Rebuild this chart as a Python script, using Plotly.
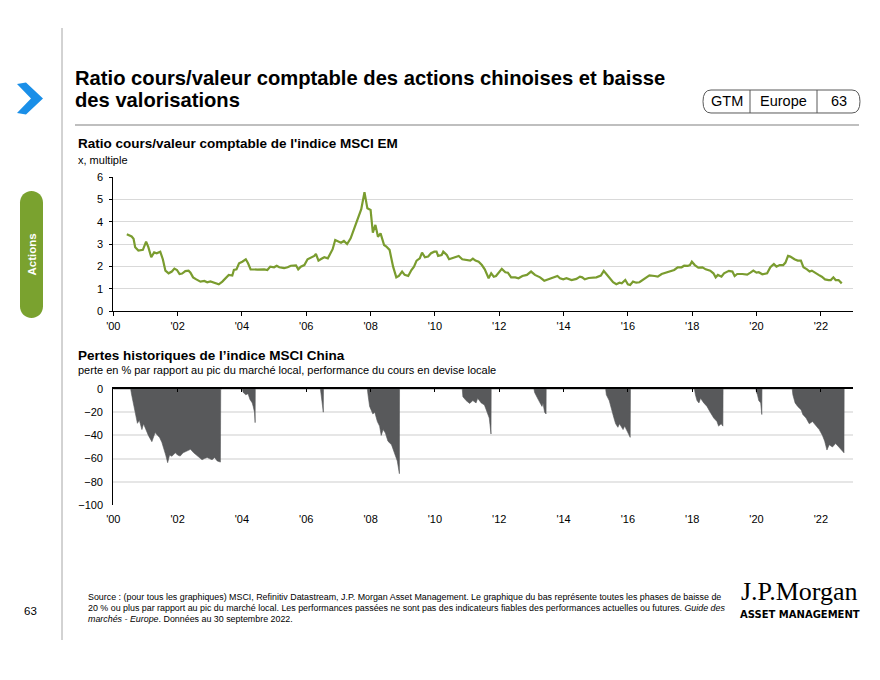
import plotly.graph_objects as go

W, H = 880, 680
OFF = 8  # page body margin of the rendered html
FONT = "Liberation Sans, Arial, sans-serif"

# ---- Data: MSCI EM price-to-book (x, multiple) ----
pb_years = [2000.42, 2000.57, 2000.63, 2000.68, 2000.78, 2000.92, 2001.02, 2001.09, 2001.18, 2001.27,
            2001.35, 2001.46, 2001.54, 2001.62, 2001.72, 2001.82, 2001.90, 2001.98, 2002.06, 2002.14,
            2002.24, 2002.34, 2002.40, 2002.48, 2002.58, 2002.66, 2002.71, 2002.83, 2002.92, 2003.02,
            2003.18, 2003.28, 2003.39, 2003.49, 2003.59, 2003.70, 2003.75, 2003.83, 2003.91, 2004.01,
            2004.12, 2004.19, 2004.27, 2004.48, 2004.69, 2004.79, 2004.88, 2005.00, 2005.08, 2005.16,
            2005.31, 2005.42, 2005.52, 2005.68, 2005.75, 2005.83, 2005.94, 2006.04, 2006.15, 2006.25,
            2006.30, 2006.38, 2006.46, 2006.56, 2006.67, 2006.75, 2006.82, 2006.90, 2006.98, 2007.08,
            2007.17, 2007.27, 2007.38, 2007.48, 2007.60, 2007.71, 2007.81, 2007.90, 2008.00, 2008.07,
            2008.15, 2008.23, 2008.31, 2008.42, 2008.49, 2008.59, 2008.70, 2008.80, 2008.88, 2008.98,
            2009.06, 2009.17, 2009.27, 2009.35, 2009.43, 2009.53, 2009.60, 2009.69, 2009.79, 2009.88,
            2009.98, 2010.05, 2010.10, 2010.21, 2010.26, 2010.37, 2010.44, 2010.54, 2010.63, 2010.74,
            2010.85, 2011.00, 2011.10, 2011.18, 2011.26, 2011.36, 2011.46, 2011.55, 2011.67, 2011.75,
            2011.83, 2011.90, 2012.00, 2012.08, 2012.19, 2012.27, 2012.37, 2012.50, 2012.60, 2012.72,
            2012.86, 2012.99, 2013.11, 2013.27, 2013.40, 2013.53, 2013.68, 2013.81, 2013.89, 2013.99,
            2014.09, 2014.25, 2014.40, 2014.51, 2014.58, 2014.66, 2014.78, 2014.92, 2015.02, 2015.16,
            2015.25, 2015.33, 2015.43, 2015.54, 2015.64, 2015.74, 2015.81, 2015.92, 2016.00, 2016.07,
            2016.16, 2016.26, 2016.36, 2016.46, 2016.57, 2016.67, 2016.83, 2016.93, 2017.05, 2017.19,
            2017.34, 2017.44, 2017.55, 2017.67, 2017.75, 2017.86, 2017.93, 2017.99, 2018.08, 2018.19,
            2018.32, 2018.42, 2018.56, 2018.66, 2018.73, 2018.80, 2018.91, 2018.99, 2019.14, 2019.25,
            2019.32, 2019.40, 2019.56, 2019.71, 2019.81, 2019.90, 2020.00, 2020.07, 2020.18, 2020.33,
            2020.43, 2020.54, 2020.62, 2020.72, 2020.83, 2020.90, 2020.98, 2021.05, 2021.18, 2021.28,
            2021.38, 2021.46, 2021.57, 2021.65, 2021.72, 2021.83, 2021.93, 2022.03, 2022.13, 2022.24,
            2022.31, 2022.39, 2022.46, 2022.55, 2022.65]
pb_values = [3.45, 3.35, 3.25, 2.87, 2.72, 2.75, 3.12, 2.87, 2.42, 2.64,
             2.60, 2.67, 2.33, 1.82, 1.70, 1.78, 1.91, 1.85, 1.67, 1.69,
             1.80, 1.82, 1.73, 1.52, 1.43, 1.36, 1.33, 1.36, 1.30, 1.34,
             1.25, 1.21, 1.33, 1.48, 1.63, 1.60, 1.85, 1.88, 2.15, 2.22,
             2.33, 2.15, 1.88, 1.87, 1.88, 1.85, 2.00, 1.97, 2.04, 1.97,
             1.93, 1.97, 2.04, 2.06, 1.88, 2.00, 2.07, 2.33, 2.42, 2.48,
             2.57, 2.27, 2.34, 2.42, 2.37, 2.57, 2.78, 3.19, 3.12, 3.07,
             3.15, 3.01, 3.27, 3.67, 4.09, 4.57, 5.33, 4.61, 4.54, 3.52,
             3.87, 3.34, 3.49, 2.97, 2.90, 2.75, 2.00, 1.52, 1.58, 1.78,
             1.63, 1.58, 1.85, 2.00, 2.27, 2.37, 2.63, 2.42, 2.45, 2.60,
             2.67, 2.67, 2.48, 2.52, 2.67, 2.52, 2.33, 2.37, 2.42, 2.48,
             2.33, 2.30, 2.27, 2.36, 2.27, 2.22, 2.07, 1.88, 1.48, 1.70,
             1.55, 1.58, 1.78, 1.90, 1.75, 1.73, 1.52, 1.52, 1.48, 1.58,
             1.63, 1.78, 1.63, 1.52, 1.37, 1.43, 1.52, 1.58, 1.48, 1.43,
             1.48, 1.40, 1.45, 1.55, 1.52, 1.43, 1.49, 1.49, 1.52, 1.60,
             1.81, 1.67, 1.48, 1.30, 1.21, 1.28, 1.25, 1.40, 1.21, 1.18,
             1.33, 1.28, 1.30, 1.40, 1.55, 1.61, 1.58, 1.55, 1.67, 1.73,
             1.78, 1.85, 1.97, 1.97, 2.04, 2.03, 2.07, 2.22, 2.07, 1.96,
             1.97, 1.88, 1.82, 1.70, 1.52, 1.63, 1.55, 1.70, 1.81, 1.78,
             1.58, 1.67, 1.67, 1.64, 1.73, 1.82, 1.73, 1.75, 1.66, 1.70,
             1.97, 2.12, 2.00, 2.07, 2.07, 2.18, 2.48, 2.45, 2.33, 2.27,
             2.27, 1.97, 1.88, 1.78, 1.82, 1.70, 1.63, 1.55, 1.43, 1.40,
             1.40, 1.52, 1.40, 1.40, 1.25]

# ---- Data: MSCI China drawdowns (% from local market peak) ----
dd_years = [2000.00, 2000.54, 2000.57, 2000.60, 2000.68, 2000.75, 2000.81, 2000.89, 2000.94, 2001.02,
            2001.09, 2001.20, 2001.30, 2001.38, 2001.44, 2001.51, 2001.56, 2001.63, 2001.69, 2001.75,
            2001.82, 2001.93, 2002.00, 2002.08, 2002.17, 2002.24, 2002.31, 2002.40, 2002.50, 2002.63,
            2002.76, 2002.83, 2002.92, 2002.99, 2003.07, 2003.15, 2003.23, 2003.33, 2003.34,
            2004.01, 2004.04, 2004.12, 2004.19, 2004.25, 2004.32, 2004.35, 2004.39, 2004.41, 2004.415,
            2006.44, 2006.46, 2006.49, 2006.51, 2006.53, 2006.535,
            2007.90, 2007.92, 2007.97, 2008.07, 2008.13, 2008.21, 2008.28, 2008.33, 2008.39, 2008.46,
            2008.54, 2008.65, 2008.75, 2008.83, 2008.896, 2008.90,
            2010.85, 2010.87, 2010.97, 2011.08, 2011.18, 2011.28, 2011.33, 2011.44, 2011.54, 2011.62,
            2011.69, 2011.744, 2011.75,
            2013.08, 2013.10, 2013.23, 2013.33, 2013.36, 2013.41, 2013.456, 2013.46,
            2015.31, 2015.33, 2015.42, 2015.49, 2015.56, 2015.62, 2015.69, 2015.74, 2015.85, 2015.90,
            2016.00, 2016.072, 2016.08,
            2018.07, 2018.10, 2018.15, 2018.21, 2018.26, 2018.36, 2018.46, 2018.56, 2018.67, 2018.77,
            2018.82, 2018.90, 2018.954, 2018.96,
            2019.98, 2020.00, 2020.03, 2020.07, 2020.13, 2020.164, 2020.17,
            2021.11, 2021.13, 2021.20, 2021.28, 2021.39, 2021.44, 2021.54, 2021.64, 2021.74, 2021.85,
            2021.95, 2022.05, 2022.12, 2022.19, 2022.26, 2022.36, 2022.46, 2022.56, 2022.62, 2022.70,
            2022.72, 2022.725]
dd_values = [0, 0, -5, -9.5, -18, -29.6, -27, -35, -30, -36,
             -40, -45.4, -37.6, -40, -41.9, -46, -50, -57, -63.5, -57,
             -58, -55, -57, -57.8, -55, -54, -53, -52, -55, -58,
             -61, -60, -59, -60, -61, -59, -62, -63, 0,
             0, -3, -5, -4, -9, -12, -15, -20, -29, 0,
             0, -5, -10, -14, -20, 0,
             0, -5, -15, -21.5, -20, -28, -32, -40, -35, -38,
             -45, -48, -55, -62, -73, 0,
             0, -6.6, -10, -12.4, -10, -12, -8, -12, -13.8, -20,
             -25, -38.8, 0,
             0, -3, -10, -15, -12, -20, -21.5, 0,
             0, -5, -10, -18, -24.4, -30, -33, -30, -35, -32,
             -38, -41.7, 0,
             0, -5, -10, -12, -8, -12, -15, -20, -25, -28,
             -32, -30, -32, 0,
             0, -3, -5, -10, -12, -22, 0,
             0, -5, -12, -15, -18, -22, -25, -30, -28, -32,
             -35, -40, -45, -52.6, -48, -50, -47, -50, -52, -55,
             -55, 0]

tick_years = [2000, 2002, 2004, 2006, 2008, 2010, 2012, 2014, 2016, 2018, 2020, 2022]
tick_labels = ["'00", "'02", "'04", "'06", "'08", "'10", "'12", "'14", "'16", "'18", "'20", "'22"]
pb_ticks = [0, 1, 2, 3, 4, 5, 6]
dd_ticks = [0, -20, -40, -60, -80, -100]


def px(x):
    return (x - OFF) / W


def py(y):
    return 1 - (y - OFF) / H


def path(cmds):
    # cmds: list of (cmd, [(x, y), ...]) in pixel coords; one command per entry
    s = ""
    for cmd, pts in cmds:
        s += cmd + " " + " ".join(f"{px(a):.5f},{py(b):.5f}" for a, b in pts) + " "
    return s + "Z"


fig = go.Figure()

fig.add_trace(go.Scatter(x=pb_years, y=pb_values, mode="lines",
                         line=dict(color="#7a9c2f", width=2.2),
                         xaxis="x", yaxis="y", showlegend=False, hoverinfo="skip"))

fig.add_trace(go.Scatter(x=dd_years, y=dd_values, mode="lines", fill="tozeroy",
                         fillcolor="#58595b", line=dict(color="#58595b", width=0.6),
                         xaxis="x2", yaxis="y2", showlegend=False, hoverinfo="skip"))
# invisible copy to activate the top tick axis of the lower chart
fig.add_trace(go.Scatter(x=dd_years, y=dd_values, mode="lines", opacity=0,
                         line=dict(width=0), xaxis="x3", yaxis="y2",
                         showlegend=False, hoverinfo="skip"))

xdom = [px(113.3), px(853)]
tickfont = dict(family=FONT, size=11, color="#000000")

fig.update_layout(
    width=W, height=H, margin=dict(l=0, r=0, t=0, b=0, autoexpand=False),
    paper_bgcolor="white", plot_bgcolor="white",
    font=dict(family=FONT, color="#000000"),
    xaxis=dict(domain=xdom, anchor="y", range=[2000, 2023], tickvals=tick_years,
               ticktext=tick_labels, showgrid=False, zeroline=False, showline=True,
               linecolor="#000000", linewidth=1.2, ticks="outside", ticklen=4,
               tickcolor="#000000", tickfont=tickfont, automargin=False),
    yaxis=dict(domain=[py(311.3), py(177.3)], anchor="x", range=[0, 6], tickvals=pb_ticks,
               showgrid=True, gridcolor="#d9d9d9", gridwidth=1, zeroline=False,
               showline=True, linecolor="#000000", linewidth=1.2, ticks="outside",
               ticklen=3, tickcolor="#000000", tickfont=tickfont, automargin=False,
               ticklabelstandoff=4),
    xaxis2=dict(domain=xdom, anchor="y2", range=[2000, 2023], tickvals=tick_years,
                ticktext=tick_labels, showgrid=False, zeroline=False, showline=False,
                ticks="", tickfont=tickfont, automargin=False, ticklabelstandoff=6),
    xaxis3=dict(domain=xdom, anchor="y2", overlaying="x2", side="top", range=[2000, 2023],
                tickvals=tick_years, showticklabels=False, showgrid=False, zeroline=False,
                showline=True, linecolor="#000000", linewidth=1.5, ticks="inside",
                ticklen=3, tickcolor="#000000", automargin=False),
    yaxis2=dict(domain=[py(505), py(389)], anchor="x2", range=[-100, 0], tickvals=dd_ticks,
                showgrid=True, gridcolor="#e6e6e6", gridwidth=1.5, zeroline=False,
                showline=True, linecolor="#000000", linewidth=1.2, ticks="",
                tickfont=tickfont, automargin=False, ticklabelstandoff=7),
)

shapes = []
# left vertical rule
shapes.append(dict(type="line", xref="paper", yref="paper", x0=px(62), x1=px(62),
                   y0=py(28), y1=py(640), line=dict(color="#a6a6a6", width=1)))
# title underline
shapes.append(dict(type="line", xref="paper", yref="paper", x0=px(75), x1=px(859),
                   y0=py(125), y1=py(125), line=dict(color="#bfbfbf", width=2)))
# blue chevron
shapes.append(dict(type="path", xref="paper", yref="paper",
                   path=path([("M", [(17, 84)]), ("L", [(26, 82.5)]), ("L", [(43, 98.5)]),
                              ("L", [(26, 114.5)]), ("L", [(17, 113)]), ("L", [(31, 98.5)])]),
                   fillcolor="#1a8fe8", line=dict(width=0)))
# green section pill
k = 6.35
shapes.append(dict(type="path", xref="paper", yref="paper",
                   path=path([("M", [(20, 202.5)]),
                              ("C", [(20, 202.5 - k), (31.5 - k, 191), (31.5, 191)]),
                              ("C", [(31.5 + k, 191), (43, 202.5 - k), (43, 202.5)]),
                              ("L", [(43, 306.5)]),
                              ("C", [(43, 306.5 + k), (31.5 + k, 318), (31.5, 318)]),
                              ("C", [(31.5 - k, 318), (20, 306.5 + k), (20, 306.5)])]),
                   fillcolor="#7aa22f", line=dict(width=0)))
# GTM tag pill
shapes.append(dict(type="path", xref="paper", yref="paper",
                   path=path([("M", [(711, 90)]), ("L", [(852, 90)]),
                              ("Q", [(860, 90), (860, 101.5)]),
                              ("Q", [(860, 113), (852, 113)]),
                              ("L", [(711, 113)]),
                              ("Q", [(703, 113), (703, 101.5)]),
                              ("Q", [(703, 90), (711, 90)])]),
                   fillcolor="rgba(0,0,0,0)", line=dict(color="#595959", width=1)))
for xd in (750, 817):
    shapes.append(dict(type="line", xref="paper", yref="paper", x0=px(xd), x1=px(xd),
                       y0=py(90), y1=py(113), line=dict(color="#595959", width=1)))
fig.update_layout(shapes=shapes)

ann = []


def text(x, y, s, size, bold=False, color="#000000", xanchor="left", family=FONT, textangle=0):
    if bold:
        s = "<b>" + s + "</b>"
    ann.append(dict(xref="paper", yref="paper", x=px(x), y=py(y), text=s, showarrow=False,
                    xanchor=xanchor, yanchor="middle", align="left", textangle=textangle,
                    font=dict(family=family, size=size, color=color), borderpad=0))


text(74, 78, "Ratio cours/valeur comptable des actions chinoises et baisse", 20.2, bold=True)
text(74, 100, "des valorisations", 20.2, bold=True)
text(726.5, 101.5, "GTM", 14.5, xanchor="center")
text(783.5, 101.5, "Europe", 14.5, xanchor="center")
text(839, 101.5, "63", 14.5, xanchor="center")
text(77, 144, "Ratio cours/valeur comptable de l'indice MSCI EM", 13.5, bold=True)
text(77, 160, "x, multiple", 11)
text(77, 355, "Pertes historiques de l’indice MSCI China", 13.5, bold=True)
text(77, 370, "perte en % par rapport au pic du marché local, performance du cours en devise locale", 11)
text(31.5, 255, "Actions", 11.5, bold=True, color="#ffffff", xanchor="center", textangle=-90)
text(87, 597, "Source : (pour tous les graphiques) MSCI, Refinitiv Datastream, J.P. Morgan Asset Management. "
             "Le graphique du bas représente toutes les phases de baisse de", 8.9)
text(87, 608, "20 % ou plus par rapport au pic du marché local. Les performances passées ne sont pas des "
             "indicateurs fiables des performances actuelles ou futures. <i>Guide des</i>", 8.9)
text(87, 619, "<i>marchés - Europe</i>. Données au 30 septembre 2022.", 8.9)
text(30, 611, "63", 11.5, xanchor="center")
text(799.5, 591, "J.P.Morgan", 26, xanchor="center", family="Liberation Serif, Times New Roman, serif")
text(799.5, 614, "ASSET MANAGEMENT", 10, bold=True, xanchor="center",
     family="DejaVu Sans, Verdana, sans-serif")
fig.update_layout(annotations=ann)

fig.write_html("out.html")
